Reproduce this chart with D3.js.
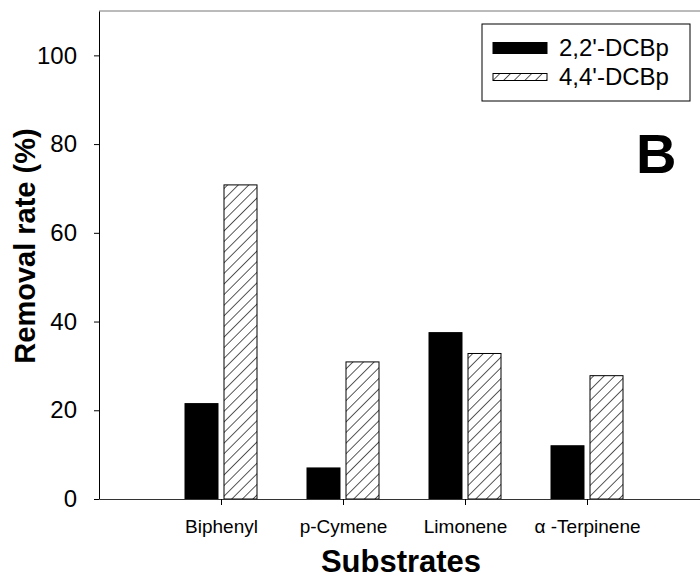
<!DOCTYPE html>
<html>
<head>
<meta charset="utf-8">
<script src="https://cdn.jsdelivr.net/npm/d3@7"></script>
<style>
  body { margin: 0; background: #fff; }
  svg { display: block; font-family: Arial, "Liberation Sans", sans-serif; }
</style>
</head>
<body>
<svg id="chart" width="700" height="582"></svg>
<script>
"use strict";

// data
const categories = ["Biphenyl", "p-Cymene", "Limonene", "\u03b1 -Terpinene"];
const seriesNames = ["2,2'-DCBp", "4,4'-DCBp"];
const dcbp22 = [21.5, 7.0, 37.5, 12.0];
const dcbp44 = [70.8, 30.9, 32.8, 27.8];
const yTicks = [0, 20, 40, 60, 80, 100];

const svg = d3.select("#chart");

// hatch pattern for 4,4'-DCBp
svg.append("defs").append("pattern")
    .attr("id", "hatch")
    .attr("patternUnits", "userSpaceOnUse")
    .attr("width", 7.5)
    .attr("height", 7.5)
    .attr("patternTransform", "rotate(45)")
    .call(p => {
        p.append("rect").attr("width", 7.5).attr("height", 7.5).attr("fill", "#fff");
        p.append("line")
            .attr("x1", 0).attr("y1", 0).attr("x2", 0).attr("y2", 7.5)
            .attr("stroke", "#000").attr("stroke-width", 1.3);
    });

const x = d3.scaleLinear().domain([0, 5]).range([99, 709]);
const y = d3.scaleLinear().domain([0, 110]).range([499, 11]);
const inner = d3.scaleBand().domain(seriesNames).range([-36, 36]).paddingInner(0.154);

const fills = { "2,2'-DCBp": "#000", "4,4'-DCBp": "url(#hatch)" };

const rows = categories.map((c, i) => ({ cat: c, i: i, values: [dcbp22[i], dcbp44[i]] }));

// top frame line
svg.append("line")
    .attr("x1", x(0)).attr("x2", x(5))
    .attr("y1", y(110)).attr("y2", y(110))
    .attr("stroke", "#777").attr("stroke-width", 1);

// bars
const groups = svg.append("g").selectAll("g")
    .data(rows)
    .enter().append("g")
    .attr("transform", d => `translate(${x(d.i + 1)},0)`);

groups.selectAll("rect")
    .data(d => d.values.map((v, k) => ({ name: seriesNames[k], value: v })))
    .enter().append("rect")
    .attr("x", d => inner(d.name))
    .attr("width", inner.bandwidth())
    .attr("y", d => y(d.value))
    .attr("height", d => y(0) - y(d.value))
    .attr("fill", d => fills[d.name])
    .attr("stroke", "#000")
    .attr("stroke-width", 1);

// y axis
const yAxis = svg.append("g")
    .attr("transform", `translate(${x(0)},0)`)
    .call(d3.axisLeft(y).tickValues(yTicks).tickSize(5).tickPadding(17).tickSizeOuter(0));
yAxis.select(".domain").attr("stroke", "#000");
yAxis.selectAll("text")
    .attr("font-size", 24)
    .attr("font-family", "Arial, 'Liberation Sans', sans-serif")
    .attr("fill", "#000");

// x axis
const xAxis = svg.append("g")
    .attr("transform", `translate(0,${y(0)})`)
    .call(d3.axisBottom(x).tickValues([1, 2, 3, 4])
        .tickFormat(d => categories[d - 1])
        .tickSize(6).tickPadding(15).tickSizeOuter(0));
xAxis.select(".domain").attr("stroke", "#333");
xAxis.selectAll("text")
    .attr("font-size", 19)
    .attr("font-family", "Arial, 'Liberation Sans', sans-serif")
    .attr("fill", "#000");

// axis titles
svg.append("text")
    .attr("x", 401).attr("y", 572)
    .attr("text-anchor", "middle")
    .attr("font-size", 31)
    .attr("font-weight", "bold")
    .text("Substrates");

svg.append("text")
    .attr("transform", "translate(35,246) rotate(-90)")
    .attr("text-anchor", "middle")
    .attr("font-size", 29)
    .attr("font-weight", "bold")
    .text("Removal rate (%)");

// panel letter
svg.append("text")
    .attr("x", 636).attr("y", 173)
    .attr("font-size", 56)
    .attr("font-weight", "bold")
    .text("B");

// legend
const legend = svg.append("g");
legend.append("rect")
    .attr("x", 482).attr("y", 24)
    .attr("width", 208).attr("height", 77)
    .attr("fill", "#fff").attr("stroke", "#000").attr("stroke-width", 1);

const legendRows = [
    { name: seriesNames[0], cy: 48, h: 11 },
    { name: seriesNames[1], cy: 77, h: 7 }
];
legendRows.forEach(r => {
    legend.append("rect")
        .attr("x", 493).attr("y", r.cy - r.h / 2)
        .attr("width", 54).attr("height", r.h)
        .attr("fill", fills[r.name])
        .attr("stroke", "#000").attr("stroke-width", 1);
    legend.append("text")
        .attr("x", 559).attr("y", r.cy)
        .attr("dy", "0.35em")
        .attr("font-size", 24)
        .text(r.name);
});
</script>
</body>
</html>
